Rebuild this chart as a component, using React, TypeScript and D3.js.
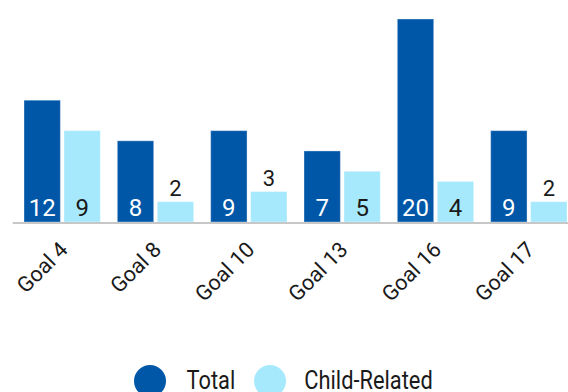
import React from "react";
import * as d3 from "d3";

const goals = ["Goal 4", "Goal 8", "Goal 10", "Goal 13", "Goal 16", "Goal 17"];
const seriesNames = ["Total", "Child-Related"];
const totalValues = [12, 8, 9, 7, 20, 9];
const childValues = [9, 2, 3, 5, 4, 2];
const colors = ["#0057a8", "#a6e9fd"];

const W = 568;
const H = 392;

export default function App() {
  const x = d3
    .scaleBand<string>()
    .domain(goals)
    .range([15.5, 575.5])
    .paddingInner(0.182)
    .paddingOuter(0.091);
  const xs = d3
    .scaleBand<string>()
    .domain(seriesNames)
    .range([0, x.bandwidth()])
    .paddingInner(0.09);
  const y = d3.scaleLinear().domain([0, 20]).range([222, 19]);

  const data = goals.map((g, i) => ({
    goal: g,
    values: [totalValues[i], childValues[i]],
  }));

  const font = "Roboto, 'Noto Sans', sans-serif";

  return (
    <svg
      width={W}
      height={H}
      style={{ position: "absolute", left: 0, top: 0, background: "#fff" }}
      fontFamily={font}
    >
      {data.map((d) => (
        <g key={d.goal} transform={`translate(${x(d.goal)},0)`}>
          {d.values.map((v, si) => {
            const bx = xs(seriesNames[si])!;
            const bw = xs.bandwidth();
            const top = y(v);
            const inside = v >= 4;
            return (
              <g key={si}>
                <rect
                  x={bx}
                  y={top}
                  width={bw}
                  height={y(0) - top}
                  fill={colors[si]}
                  stroke="#ffffff"
                  strokeOpacity={0.35}
                  strokeWidth={1}
                />
                <text
                  x={bx + bw / 2}
                  y={inside ? y(0) - 6 : top - 6}
                  textAnchor="middle"
                  fontSize={inside ? 24 : 22}
                  fill={inside && si === 0 ? "#ffffff" : "#1a1a1a"}
                >
                  {v}
                </text>
              </g>
            );
          })}
        </g>
      ))}
      <line x1={12.7} x2={W} y1={223} y2={223} stroke="#b5b5b5" strokeWidth={1.5} />
      {goals.map((g) => {
        const cx = x(g)! + x.bandwidth() / 2 + 7;
        return (
          <text
            key={g}
            transform={`translate(${cx},251) rotate(-45)`}
            textAnchor="end"
            fontSize={21.5}
            fill="#1a1a1a"
          >
            {g}
          </text>
        );
      })}
      <g>
        {seriesNames.map((s, i) => {
          const cx = i === 0 ? 150 : 270;
          const tx = i === 0 ? 186.5 : 304.3;
          return (
            <g key={s}>
              <circle cx={cx} cy={381} r={16} fill={colors[i]} />
              <text
                transform={`translate(${tx},389) scale(0.84,1)`}
                fontSize={26}
                fill="#1a1a1a"
              >
                {s}
              </text>
            </g>
          );
        })}
      </g>
    </svg>
  );
}
